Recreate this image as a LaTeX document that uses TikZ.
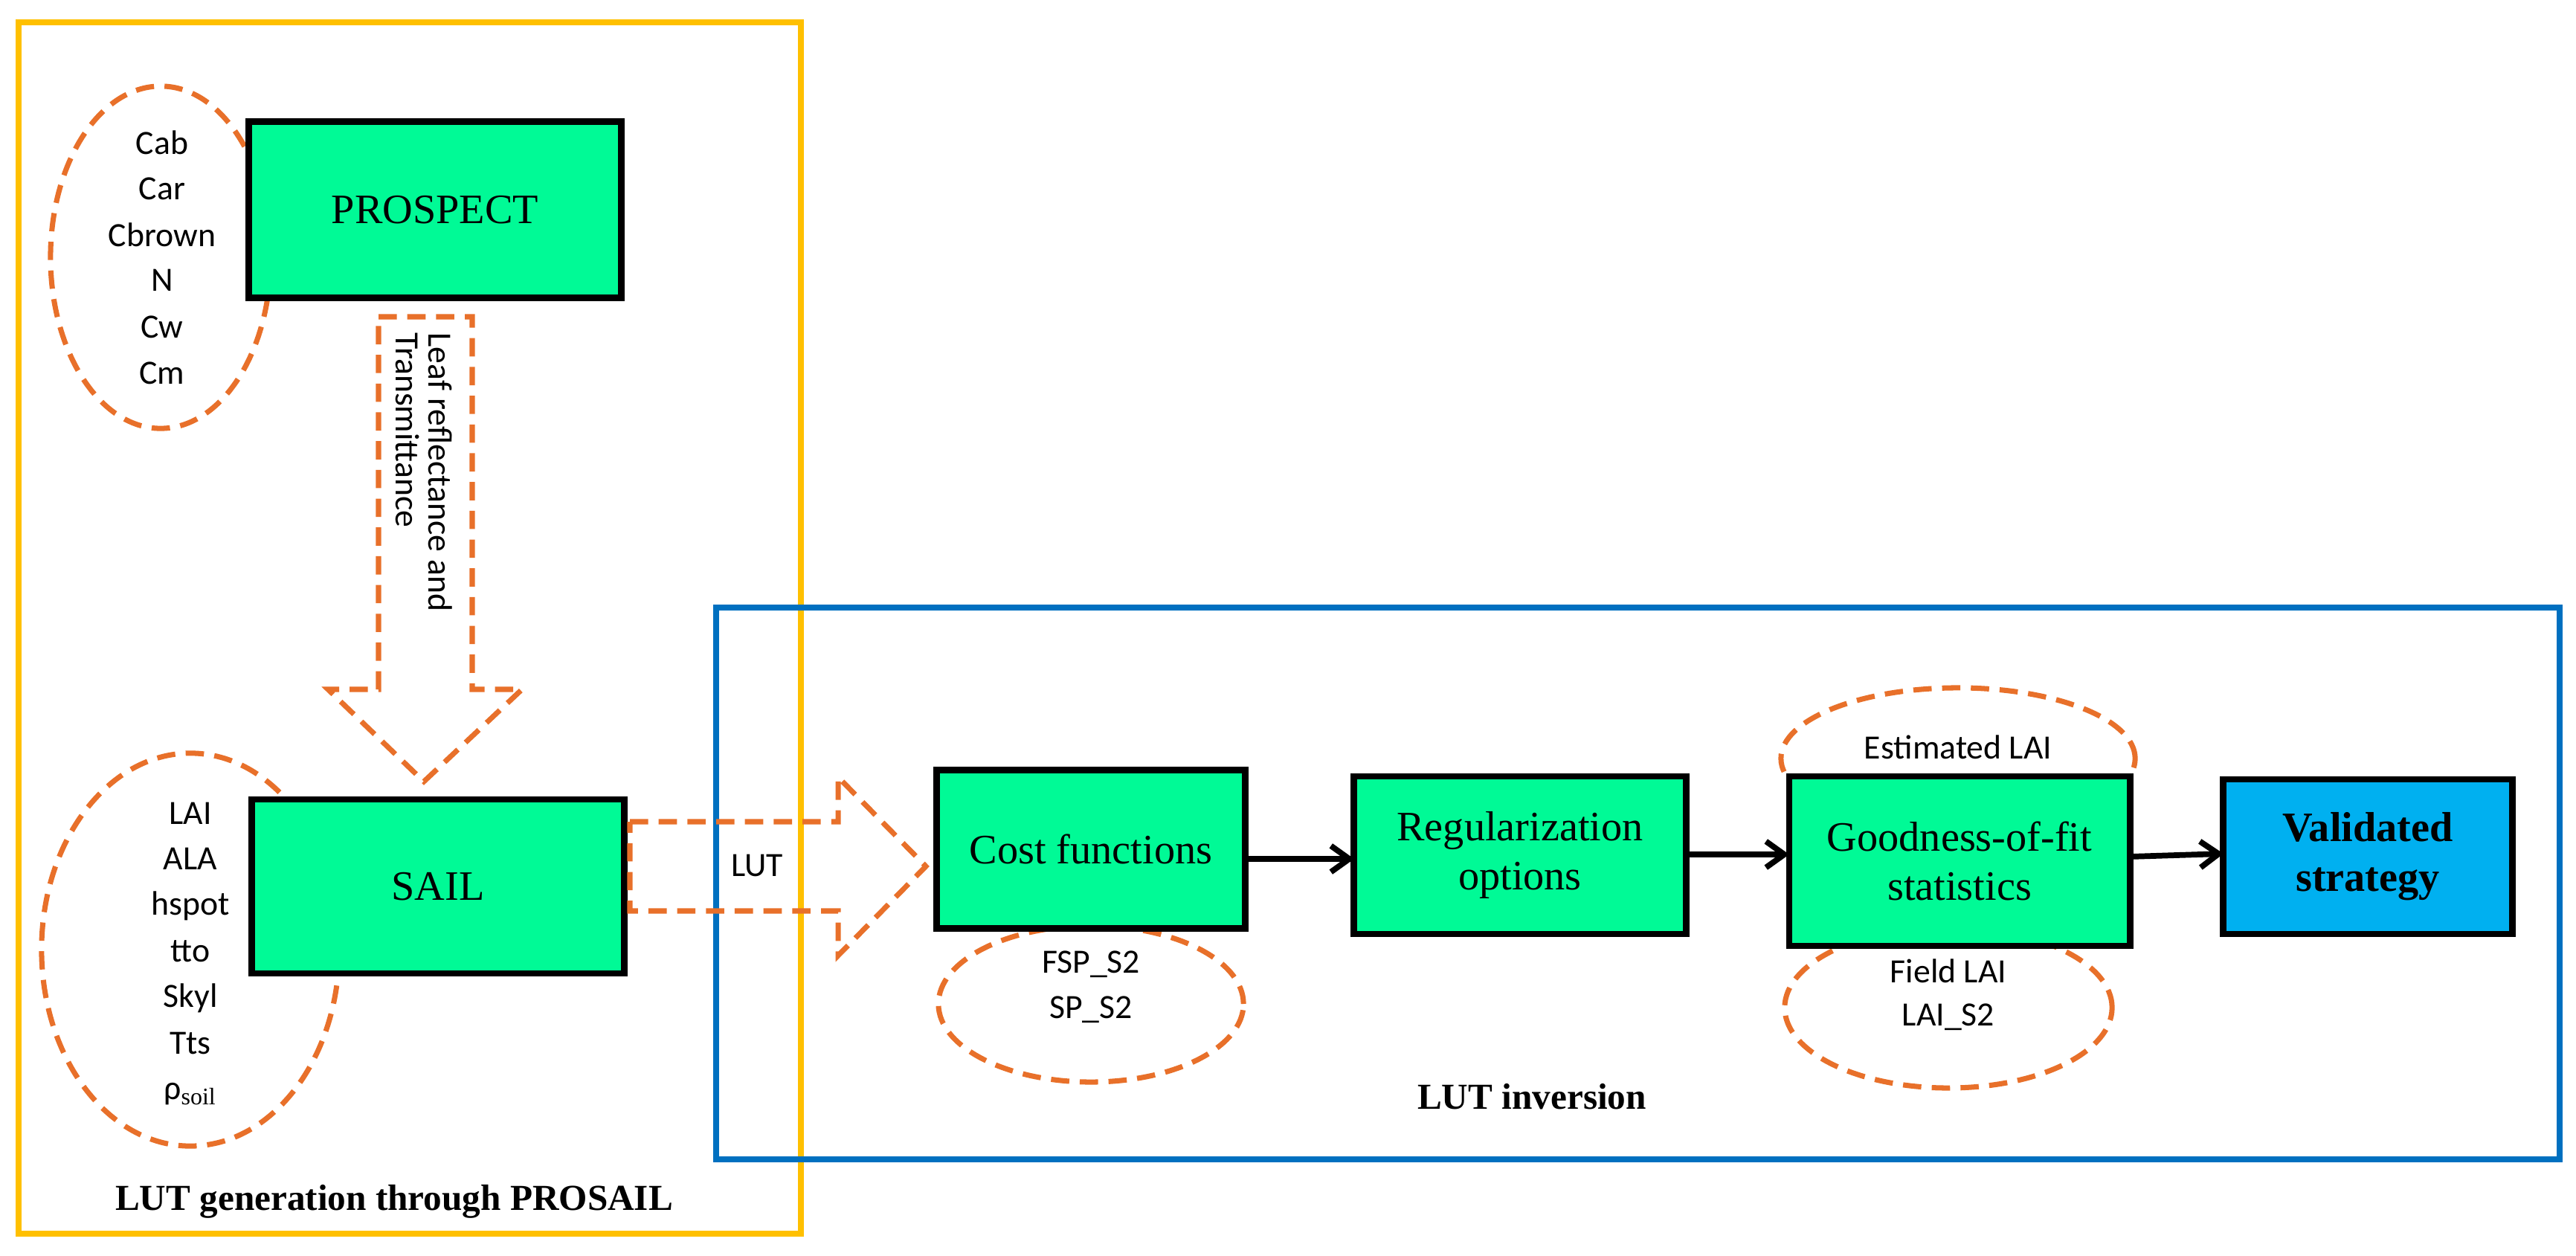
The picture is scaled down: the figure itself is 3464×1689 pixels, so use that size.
\documentclass[tikz,border=0pt]{standalone}
\usepackage{fontspec}
\setmainfont{Liberation Serif}
\newfontfamily\carlitofont{Carlito}
\usetikzlibrary{shapes.geometric,arrows.meta}
\definecolor{boxgreen}{HTML}{00FA96}
\definecolor{boxblue}{HTML}{00B0F0}
\definecolor{dashor}{HTML}{E8702A}
\definecolor{frameor}{HTML}{FFC000}
\definecolor{frameblue}{HTML}{0070C0}
\begin{document}
\begin{tikzpicture}[x=0.01cm,y=-0.01cm,
  box/.style={draw=black,line width=2.5pt,fill=boxgreen,inner sep=0pt,font=\fontsize{16}{19}\selectfont,align=center},
  ell/.style={draw=dashor,line width=2pt,dash pattern=on 7pt off 4pt},
  small/.style={font=\carlitofont\fontsize{13}{15}\selectfont,inner sep=0pt},
  conn/.style={draw=black,line width=2.2pt,-{Straight Barb[length=7pt,width=10pt]}}]
\useasboundingbox (0,0) rectangle (3464,1689);
% frames
\draw[frameor,line width=2.5pt] (25,30) rectangle (1077,1659);
\draw[frameblue,line width=2.5pt] (963,817) rectangle (3442,1559);
% ellipses
\draw[ell] (216,346) ellipse [x radius=1.48cm,y radius=2.30cm];
\draw[ell] (256,1277) ellipse [x radius=2.00cm,y radius=2.64cm];
\draw[ell] (1467,1350) ellipse [x radius=2.05cm,y radius=1.05cm];
\draw[ell] (2633,1020) ellipse [x radius=2.38cm,y radius=0.95cm];
\draw[ell] (2620,1355) ellipse [x radius=2.20cm,y radius=1.08cm];
% boxes
\node[box,minimum width=5.00cm,minimum height=2.37cm] (prospect) at (585,282) {PROSPECT};
\node[box,minimum width=5.00cm,minimum height=2.34cm] (sail) at (589,1192) {SAIL};
\node[box,minimum width=4.15cm,minimum height=2.13cm] (cost) at (1467,1142) {Cost functions};
\node[box,minimum width=4.47cm,minimum height=2.12cm] (reg) at (2044,1150) {Regularization\\options};
\node[box,minimum width=4.58cm,minimum height=2.28cm] (gof) at (2635,1158) {Goodness-of-fit\\statistics};
\node[box,fill=boxblue,minimum width=3.89cm,minimum height=2.08cm,font=\bfseries\fontsize{16}{19}\selectfont] (val) at (3184,1152) {Validated\\strategy};
% parameter texts
\foreach \t/\y in {Cab/192,Car/254,Cbrown/316,N/377,Cw/440,Cm/502}
  \node[small] at (218,\y) {\t};
\foreach \t/\y in {LAI/1094,ALA/1155,hspot/1218,tto/1279,Skyl/1342,Tts/1403}
  \node[small] at (256,\y) {\t};
\node[small] at (256,1471) {ρ\textsubscript{\rmfamily soil}};
\node[small] at (1467,1297) {FSP\_S2};
\node[small] at (1467,1358) {SP\_S2};
\node[small] at (2633,1005) {Estimated LAI};
\node[small] at (2620,1306) {Field LAI};
\node[small] at (2620,1368) {LAI\_S2};
% block arrows
\draw[ell,line join=miter] (509,426) -- (635,426) -- (635,927) -- (702,927) -- (570,1051) -- (441,927) -- (509,927) -- cycle;
\node[small,rotate=-90,anchor=south west] at (575,447) {Leaf reflectance and};
\node[small,rotate=-90,anchor=north west] at (565,447) {Transmittance};
\draw[ell,line join=miter] (847,1105) -- (1127,1105) -- (1127,1045) -- (1245,1165) -- (1127,1285) -- (1127,1225) -- (847,1225) -- cycle;
\node[small] at (1018,1164) {LUT};
% connectors
\coordinate (c1) at (1675,1155); \coordinate (r1) at (1821,1155);
\coordinate (r2) at (2268,1149); \coordinate (g1) at (2406,1149);
\coordinate (g2) at (2864,1152); \coordinate (v1) at (2990,1148);
\draw[conn] (c1) -- (r1);
\draw[conn] (r2) -- (g1);
\draw[conn] (g2) -- (v1);
% labels
\node[font=\bfseries\fontsize{14}{16}\selectfont] at (530,1616) {LUT generation through PROSAIL};
\node[font=\bfseries\fontsize{14}{16}\selectfont] at (2060,1475) {LUT inversion};
\end{tikzpicture}
\end{document}
